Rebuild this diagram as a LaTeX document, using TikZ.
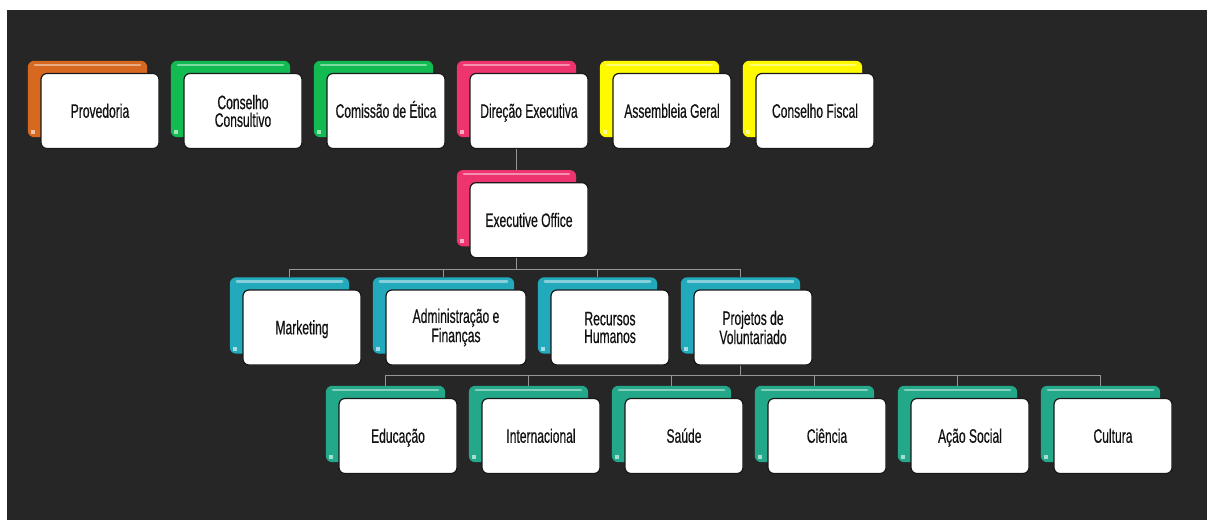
\documentclass[tikz,border=0pt]{standalone}
\usepackage{fontspec}
\setmainfont[FakeStretch=0.62, FakeBold=0.5]{Liberation Sans}
\usepackage{tikz}
\usetikzlibrary{positioning,fit,backgrounds,calc}

\definecolor{bgdark}{RGB}{38,38,38}
\definecolor{linkgray}{RGB}{150,150,150}
\definecolor{orangec}{RGB}{214,104,32}
\definecolor{greenc}{RGB}{18,186,82}
\definecolor{pinkc}{RGB}{238,52,110}
\definecolor{yellowc}{RGB}{255,250,0}
\definecolor{cyanc}{RGB}{34,170,188}
\definecolor{tealc}{RGB}{36,168,138}

\tikzset{
	card/.style={draw=black!90, line width=1.2pt, fill=white, rounded corners=6pt,
		minimum width=118pt, minimum height=75pt, inner sep=2pt, align=center,
		text=black!93, font=\fontsize{19.5}{17.7}\selectfont},
	oneline/.style={card, text height=13.5pt, text depth=0pt},
	backbox/.style={rounded corners=6pt, inner sep=0pt, xshift=-12.5pt, yshift=12pt,
		path picture={
			\draw[white, opacity=.45, line width=2.5pt, line cap=round]
				([xshift=7pt, yshift=-4pt]path picture bounding box.north west) --
				([xshift=-7pt, yshift=-4pt]path picture bounding box.north east);
			\fill[white, opacity=.6, sharp corners]
				([xshift=3pt, yshift=3pt]path picture bounding box.south west) rectangle ++(4pt,4pt);
		}},
	link/.style={draw=linkgray, line width=1.4pt}
}

\begin{document}
\begin{tikzpicture}[x=1pt, y=-1pt, node distance=23.8pt]
	\useasboundingbox (0,0) rectangle (1207,520);

	% governing bodies
	\node[oneline] (prov) at (100,111) {Provedoria};
	\node[card, right=of prov] (ccons) {Conselho\\Consultivo};
	\node[oneline, right=of ccons] (etica) {Comissão de Ética};
	\node[oneline, right=of etica] (dir) {Direção Executiva};
	\node[oneline, right=of dir] (assemb) {Assembleia Geral};
	\node[oneline, right=of assemb] (fiscal) {Conselho Fiscal};

	\node[oneline, below=33pt of dir] (exec) {Executive Office};

	% departments
	\node[oneline] (mkt) at (302,327.5) {Marketing};
	\node[card, minimum width=140pt, right=of mkt] (adm) {Administração e\\Finanças};
	\node[card, right=of adm] (rh) {Recursos\\Humanos};
	\node[card, right=of rh] (proj) {Projetos de\\Voluntariado};

	% volunteer projects
	\node[oneline] (edu) at (398,436) {Educação};
	\node[oneline, right=of edu] (intl) {Internacional};
	\node[oneline, right=of intl] (saude) {Saúde};
	\node[oneline, right=of saude] (cien) {Ciência};
	\node[oneline, right=of cien] (acao) {Ação Social};
	\node[oneline, right=of acao] (cult) {Cultura};

	\begin{scope}[on background layer]
		\fill[white] (0,0) rectangle (1207,520);
		\fill[bgdark] (7,10) rectangle (1207,520);
		\foreach \n/\c in {prov/orangec, ccons/greenc, etica/greenc, dir/pinkc,
			assemb/yellowc, fiscal/yellowc, exec/pinkc, mkt/cyanc, adm/cyanc,
			rh/cyanc, proj/cyanc, edu/tealc, intl/tealc, saude/tealc, cien/tealc,
			acao/tealc, cult/tealc}
			\node[backbox, fill=\c, fit=(\n)] (b\n) {};
	\end{scope}

	\draw[link] (bdir.south |- dir.south) -- (bexec.north);
	\foreach \d in {mkt,adm,rh,proj}
		\draw[link] (bexec.south |- exec.south) -- ++(0,11) -| (b\d.north);
	\foreach \p in {edu,intl,saude,cien,acao,cult}
		\draw[link] (bproj.south |- proj.south) -- ++(0,10) -| (b\p.north);
\end{tikzpicture}
\end{document}
